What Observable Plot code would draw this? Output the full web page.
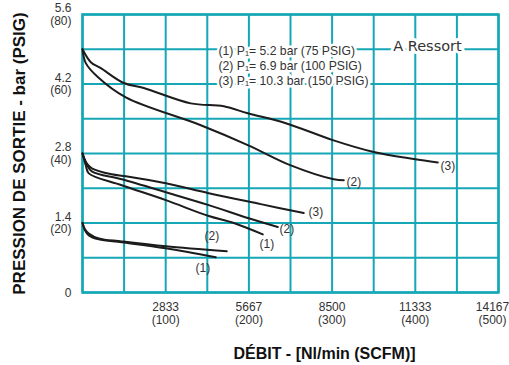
<!DOCTYPE html>
<html><head><meta charset="utf-8">
<script src="https://cdn.jsdelivr.net/npm/d3@7"></script>
<script src="https://cdn.jsdelivr.net/npm/@observablehq/plot@0.6"></script>
<style>
body{margin:0;background:#fff;}
#chart svg{display:block;}
</style>
</head><body><div id="chart"></div>
<script>
// Flow (Nl/min) vs outlet pressure (bar)
const curveTop3 = [[0,4.9],[283,4.64],[623,4.52],[1406,4.22],[2088,4.12],[3688,3.81],[4812,3.75],[5629,3.61],[6923,3.41],[8524,3.07],[9920,2.83],[11282,2.69],[12100,2.62]];
const curveTop2 = [[0,4.9],[112,4.62],[521,4.34],[1475,3.93],[4029,3.37],[5629,2.97],[7094,2.56],[8558,2.28],[8899,2.26]];
const curveMid3 = [[0,2.8],[146,2.6],[317,2.5],[998,2.38],[1475,2.34],[2837,2.2],[4301,2.0],[6072,1.78],[7536,1.6]];
const curveMid2 = [[0,2.8],[146,2.58],[317,2.44],[1338,2.28],[2837,2.02],[4301,1.76],[5629,1.5],[6651,1.32]];
const curveMid1 = [[0,2.8],[112,2.56],[215,2.4],[1338,2.16],[2837,1.86],[4301,1.54],[5153,1.4],[6140,1.17]];
const curveLow2 = [[0,1.4],[78,1.28],[215,1.19],[555,1.09],[1338,1.03],[2837,0.93],[4914,0.83]];
const curveLow1 = [[0,1.4],[78,1.26],[215,1.15],[555,1.07],[1338,1.01],[2837,0.89],[4540,0.71]];

const curveNames = ["top3","top2","mid3","mid2","mid1","low2","low1"];
const curveData = [curveTop3, curveTop2, curveMid3, curveMid2, curveMid1, curveLow2, curveLow1];

const curveLabels = ["(3)","(2)","(3)","(2)","(1)","(2)","(1)"];
const labelX = [12440, 9239, 7945, 6957, 6276, 4403, 4097];
const labelY = [2.54, 2.22, 1.62, 1.28, 0.97, 1.13, 0.49];

const xTicksNl = [2833, 5667, 8500, 11333, 14167];
const xTicksScfm = [100, 200, 300, 400, 500];
const yTicksBar = [0, 1.4, 2.8, 4.2, 5.6];
const yTicksPsig = [0, 20, 40, 60, 80];

const legendLines = ["(1) P\u2081= 5.2 bar (75 PSIG)", "(2) P\u2081= 6.9 bar (100 PSIG)", "(3) P\u2081= 10.3 bar (150 PSIG)"];
const noteText = "A Ressort";
const xTitle = "DÉBIT - [Nl/min (SCFM)]";
const yTitle = "PRESSION DE SORTIE - bar (PSIG)";

const teal = "#16a7b7";
const rows = curveData.flatMap((pts, k) => pts.map(([x, y]) => ({id: curveNames[k], x, y})));
const labels = curveLabels.map((t, i) => ({t, x: labelX[i], y: labelY[i]}));
const xGrid = d3.range(0, 11).map(i => i * 14167 / 10);
const yGrid = d3.range(0, 9).map(i => i * 0.7);
const xFmt = d => `${d}\n(${xTicksScfm[xTicksNl.indexOf(d)]})`;
const xAxisOpts = {tickSize: 0, tickPadding: 9, label: null, fontSize: 12, lineHeight: 1.1, fill: "#333", tickFormat: xFmt};

const chart = Plot.plot({
  width: 509, height: 365,
  marginLeft: 82, marginRight: 11, marginTop: 14, marginBottom: 73,
  x: {domain: [0, 14167]},
  y: {domain: [0, 5.6]},
  style: {fontFamily: "'Liberation Sans', Arial, sans-serif", fontSize: "12px", color: "#333", background: "#fff", overflow: "visible"},
  marks: [
    Plot.gridX(xGrid, {stroke: teal, strokeOpacity: 1, strokeWidth: 2}),
    Plot.gridY(yGrid, {stroke: teal, strokeOpacity: 1, strokeWidth: 2}),
    Plot.frame({stroke: teal, strokeWidth: 2.5}),
    Plot.axisX(xTicksNl.slice(0, 4), xAxisOpts),
    Plot.axisX(xTicksNl.slice(4), {...xAxisOpts, dx: -6}),
    Plot.axisY(yTicksBar, {tickSize: 0, tickPadding: 11, label: null, fontSize: 12, lineHeight: 1.05, fill: "#333",
      tickFormat: d => { const k = yTicksBar.indexOf(d); return d === 0 ? "0" : `${d}\n(${yTicksPsig[k]})`; }}),
    Plot.line(rows, {x: "x", y: "y", z: "id", curve: "catmull-rom", stroke: "#1c1c1c", strokeWidth: 2}),
    Plot.text(labels, {x: "x", y: "y", text: "t", fontSize: 12, fill: "#333"}),
    Plot.text([legendLines.join("\n")], {frameAnchor: "top-left", textAnchor: "start", lineAnchor: "middle",
      dx: 136, dy: 51, lineHeight: 1.22, fontSize: 12.2, fill: "#333", stroke: "white", strokeWidth: 5}),
    Plot.text([noteText], {frameAnchor: "top-left", textAnchor: "middle", lineAnchor: "middle",
      dx: 345, dy: 32, fontSize: 14.5, fontFamily: "'DejaVu Sans', sans-serif", fill: "#333", stroke: "white", strokeWidth: 6}),
    Plot.text([xTitle], {frameAnchor: "bottom", textAnchor: "middle", lineAnchor: "middle", dx: 34, dy: 61, fontSize: 16, fontWeight: "bold", fill: "#111"}),
    Plot.text([yTitle], {frameAnchor: "left", textAnchor: "middle", lineAnchor: "middle", dx: -63, rotate: -90, fontSize: 17, fontWeight: "bold", fill: "#111"})
  ]
});
document.getElementById("chart").append(chart);
</script>
</body></html>
